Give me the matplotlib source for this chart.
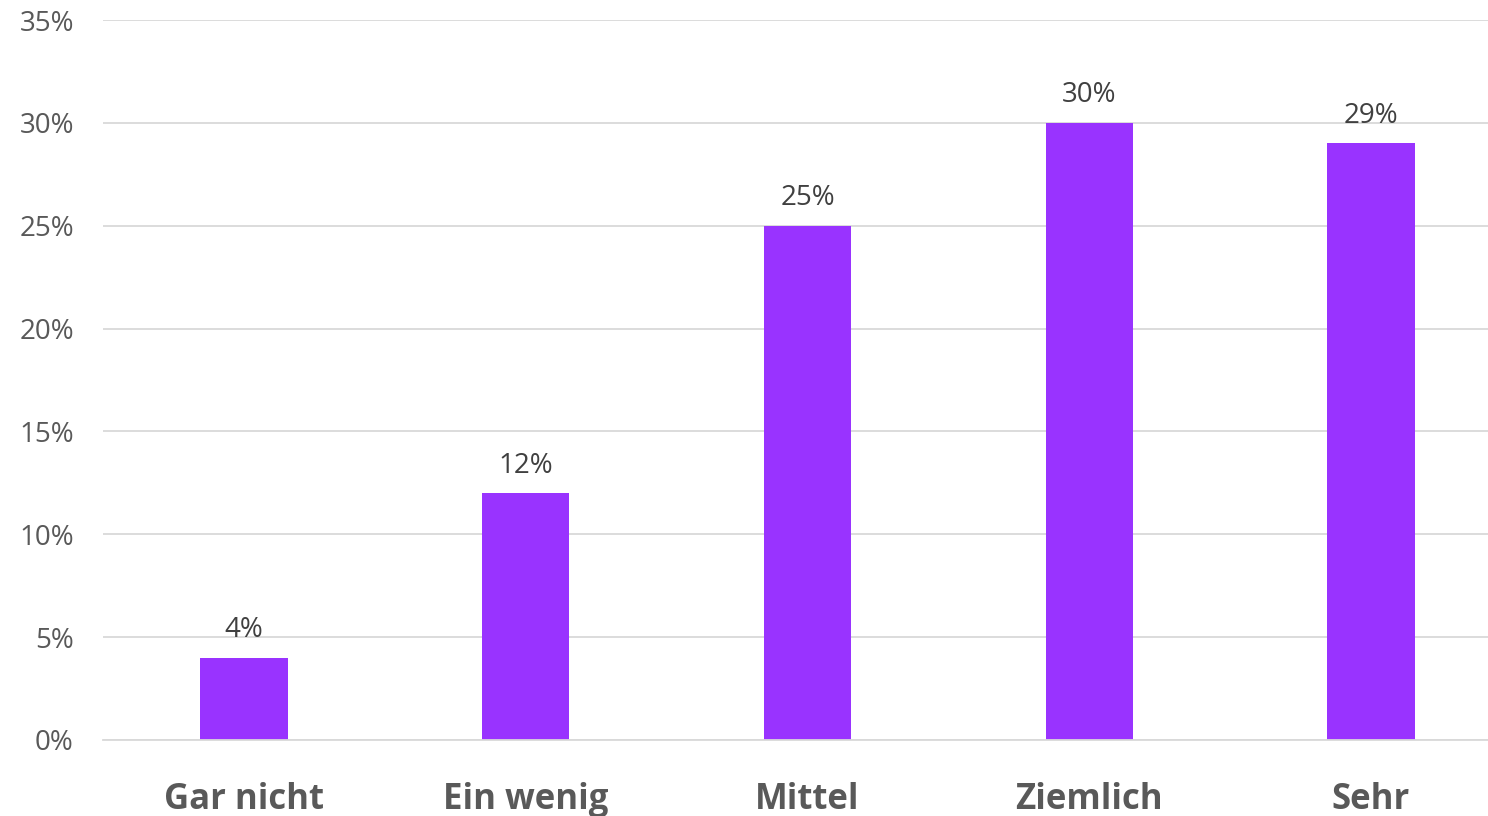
import matplotlib
matplotlib.use('Agg')
import matplotlib.pyplot as plt
from matplotlib.ticker import PercentFormatter, MultipleLocator

plt.rcParams['font.family'] = ['Open Sans', 'DejaVu Sans']

# data
categories = ['Gar nicht', 'Ein wenig', 'Mittel', 'Ziemlich', 'Sehr']
shares = [4, 12, 25, 30, 29]

W, H = 1488, 816
fig = plt.figure(figsize=(W/100, H/100), dpi=100)
ax = fig.add_axes([103/W, (H-740)/H, (W-103)/W, 720/H])

grey = '#595959'
bars = ax.bar(range(len(categories)), shares, width=0.31, color='#9933FF', zorder=2)

for b, v in zip(bars, shares):
    ax.text(b.get_x() + b.get_width()/2, v + 0.65, f'{v}%', ha='center', va='bottom',
            fontsize=20, color='#404040')

ax.set_ylim(0, 35)
ax.set_xlim(-0.5, 4.415)
ax.yaxis.set_major_locator(MultipleLocator(5))
ax.yaxis.set_major_formatter(PercentFormatter(decimals=0))
ax.grid(axis='y', color='#d9d9d9', lw=1.3, zorder=0)
ax.set_xticks(range(len(categories)))
ax.set_xticklabels(categories, fontsize=25, fontweight='bold', color=grey)
ax.tick_params(axis='y', labelsize=20, labelcolor=grey, length=0, pad=21)
ax.tick_params(axis='x', length=0, pad=30)
for s in ax.spines.values():
    s.set_visible(False)
ax.spines['bottom'].set_visible(True)
ax.spines['bottom'].set_color('#d9d9d9')
ax.spines['bottom'].set_linewidth(1.3)

fig.savefig('out.png', dpi=100)
